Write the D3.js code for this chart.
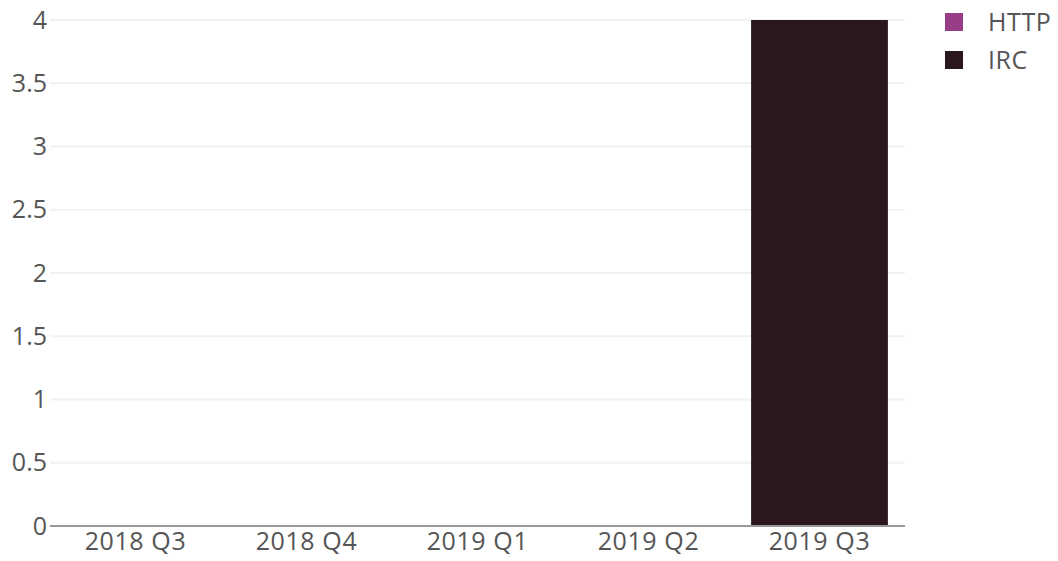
<!DOCTYPE html>
<html>
<head>
<meta charset="utf-8">
<script src="https://cdn.jsdelivr.net/npm/d3@7"></script>
<style>
  body { margin: 0; background: #fff; }
  svg { display: block; font-family: "Open Sans", sans-serif; }
</style>
</head>
<body>
<div id="chart"></div>
<script>
const quarters = ["2018 Q3", "2018 Q4", "2019 Q1", "2019 Q2", "2019 Q3"];
const seriesNames = ["HTTP", "IRC"];
const httpValues = [0, 0, 0, 0, 0];
const ircValues = [0, 0, 0, 0, 4];
const yTicks = [0, 0.5, 1, 1.5, 2, 2.5, 3, 3.5, 4];
const colors = ["#993d88", "#2a181c"];

const width = 1058, height = 561;
const margin = {top: 20, right: 153, bottom: 35, left: 50};
const fontSize = 25;
const textColor = "#555555";

const rows = quarters.map((q, i) => ({quarter: q, HTTP: httpValues[i], IRC: ircValues[i]}));
const stacked = d3.stack().keys(seriesNames)(rows);

const svg = d3.select("#chart").append("svg")
  .attr("width", width)
  .attr("height", height);

const x = d3.scaleBand()
  .domain(quarters)
  .range([margin.left, width - margin.right])
  .paddingInner(0.2)
  .paddingOuter(0.1);

const y = d3.scaleLinear()
  .domain([0, 4])
  .range([height - margin.bottom, margin.top]);

// gridlines
svg.append("g")
  .selectAll("line")
  .data(yTicks.filter(d => d > 0))
  .join("line")
  .attr("x1", margin.left)
  .attr("x2", width - margin.right)
  .attr("y1", d => y(d))
  .attr("y2", d => y(d))
  .attr("stroke", "#f1f1f1")
  .attr("stroke-width", 2);

// bars
svg.append("g")
  .selectAll("g")
  .data(stacked)
  .join("g")
  .attr("fill", (d, i) => colors[i])
  .selectAll("rect")
  .data(d => d)
  .join("rect")
  .attr("x", d => x(d.data.quarter))
  .attr("width", x.bandwidth())
  .attr("y", d => y(d[1]))
  .attr("height", d => y(d[0]) - y(d[1]));

// zero line
svg.append("line")
  .attr("x1", margin.left)
  .attr("x2", width - margin.right)
  .attr("y1", y(0))
  .attr("y2", y(0))
  .attr("stroke", "#999999")
  .attr("stroke-width", 2);

// y axis labels
const yAxis = d3.axisLeft(y).tickValues(yTicks).tickSize(0).tickPadding(3).tickFormat(d3.format("~g"));
svg.append("g")
  .attr("transform", `translate(${margin.left},0)`)
  .call(yAxis)
  .call(g => g.select(".domain").remove())
  .call(g => g.selectAll("text")
    .attr("font-family", "'Open Sans', sans-serif")
    .attr("font-size", fontSize)
    .attr("fill", textColor));

// x axis labels
const xAxis = d3.axisBottom(x).tickSize(0).tickPadding(6);
svg.append("g")
  .attr("transform", `translate(0,${y(0)})`)
  .call(xAxis)
  .call(g => g.select(".domain").remove())
  .call(g => g.selectAll("text")
    .attr("font-family", "'Open Sans', sans-serif")
    .attr("font-size", fontSize)
    .attr("letter-spacing", 0.6)
    .attr("fill", textColor));

// legend
const legend = svg.append("g")
  .attr("transform", "translate(945,13)")
  .selectAll("g")
  .data(seriesNames)
  .join("g")
  .attr("transform", (d, i) => `translate(0,${i * 38})`);

legend.append("rect")
  .attr("width", 18)
  .attr("height", 18)
  .attr("fill", (d, i) => colors[i]);

legend.append("text")
  .attr("x", 43)
  .attr("y", 9)
  .attr("dy", "0.35em")
  .attr("font-size", fontSize)
  .attr("letter-spacing", 0.6)
  .attr("fill", textColor)
  .text(d => d);
</script>
</body>
</html>
